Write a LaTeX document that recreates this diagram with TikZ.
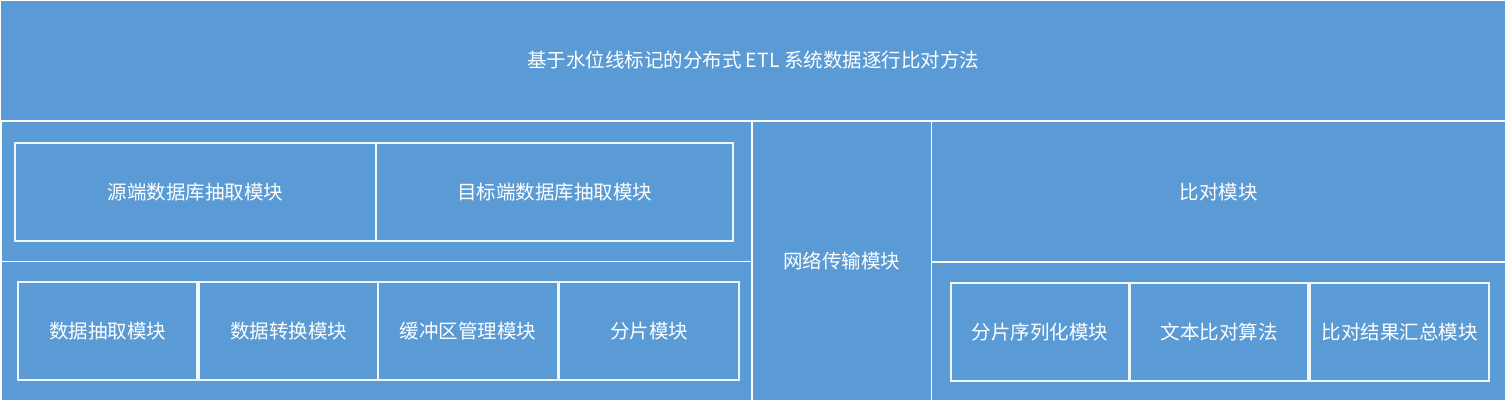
\documentclass[tikz,border=0pt]{standalone}
\usepackage{fontspec}
\setmainfont{Noto Sans CJK SC}
\usepackage{tikz}
\definecolor{panelblue}{HTML}{5B9BD5}

\begin{document}
\begin{tikzpicture}[x=1pt, y=-1pt,
    every node/.style={font=\fontsize{19.5}{23}\selectfont, text=white, inner sep=0pt, outer sep=0pt},
    panel/.style={draw=white, fill=panelblue, line width=1.6pt},
    unit/.style={draw=white!90!panelblue, line width=1.2pt}]

    \useasboundingbox (0,0) rectangle (1507,403);

    % Title bar
    \node[panel, minimum width=1506pt, minimum height=121pt] (title) at (753,60.5)
        {基于水位线标记的分布式 ETL 系统数据逐行比对方法};

    % Extraction side
    \node[panel, minimum width=751pt, minimum height=140pt] (extract) at (376.5,191.5) {};
    \node[panel, minimum width=751pt, minimum height=139.5pt] (prepare) at (376.5,331.25) {};

    \node[unit, minimum width=361pt, minimum height=98pt] (srcdb) at (195.5,192) {源端数据库抽取模块};
    \node[unit, minimum width=357pt, minimum height=98pt] (dstdb) at (554.5,192) {目标端数据库抽取模块};

    \node[unit, minimum width=179pt, minimum height=98pt] (pull) at (107.5,331) {数据抽取模块};
    \node[unit, minimum width=179pt, minimum height=98pt] (convert) at (288.5,331) {数据转换模块};
    \node[unit, minimum width=180pt, minimum height=98pt] (buffer) at (468,331) {缓冲区管理模块};
    \node[unit, minimum width=180pt, minimum height=98pt] (shard) at (649,331) {分片模块};

    % Network in the middle
    \node[panel, minimum width=179.5pt, minimum height=279.5pt] (network) at (841.75,261.25) {网络传输模块};

    % Comparison side
    \node[panel, minimum width=574.5pt, minimum height=140.5pt] (compare) at (1218.75,191.75) {比对模块};
    \node[panel, minimum width=574.5pt, minimum height=139pt] (cmpparts) at (1218.75,331.5) {};

    \node[unit, minimum width=178pt, minimum height=98pt] (serial) at (1040,332) {分片序列化模块};
    \node[unit, minimum width=178pt, minimum height=98pt] (textcmp) at (1219,332) {文本比对算法};
    \node[unit, minimum width=179pt, minimum height=98pt] (summary) at (1399.5,332) {比对结果汇总模块};

\end{tikzpicture}
\end{document}
